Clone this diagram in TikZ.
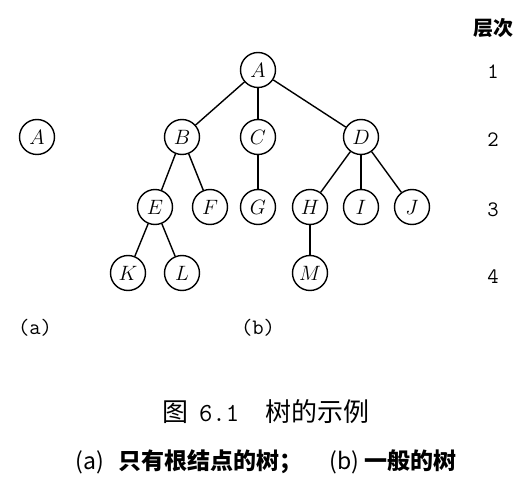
\documentclass[tikz,border=0pt]{standalone}
\usepackage{fontspec}
\newfontfamily\cjk{Noto Sans CJK SC}
\usetikzlibrary{positioning}
\tikzset{
  vert/.style={draw, circle, line width=1.4pt, minimum size=35pt, inner sep=0pt,
    font=\fontsize{20}{20}\selectfont},
  edge/.style={line width=1.4pt},
  lvl/.style={font=\ttfamily\fontsize{22}{22}\selectfont},
}
\begin{document}
\begin{tikzpicture}[x=1pt,y=-1pt]
\useasboundingbox (0,0) rectangle (531,481);
% Tree (a)
\node[vert] (a0) at (37,137) {$A$};
% Tree (b)
\node[vert] (A) at (258,70) {$A$};
\node[vert] (B) at (182,137) {$B$};
\node[vert] (C) at (258,137) {$C$};
\node[vert] (D) at (361,137) {$D$};
\node[vert] (E) at (155,207) {$E$};
\node[vert] (F) at (210,207) {$F$};
\node[vert] (G) at (258,207) {$G$};
\node[vert] (H) at (310,207) {$H$};
\node[vert] (I) at (361,207) {$I$};
\node[vert] (J) at (412,207) {$J$};
\node[vert] (K) at (128,273) {$K$};
\node[vert] (L) at (182,273) {$L$};
\node[vert] (M) at (310,273) {$M$};

\draw[edge] (A) -- (B);
\draw[edge] (A) -- (C);
\draw[edge] (A) -- (D);
\draw[edge] (B) -- (E);
\draw[edge] (B) -- (F);
\draw[edge] (C) -- (G);
\draw[edge] (D) -- (H);
\draw[edge] (D) -- (I);
\draw[edge] (D) -- (J);
\draw[edge] (E) -- (K);
\draw[edge] (E) -- (L);
\draw[edge] (H) -- (M);

% Levels
\node[font=\cjk\fontsize{20}{20}\selectfont\bfseries] (lvlhead) at (493,28) {层次};
\node[lvl] (l1) at (493,72) {1};
\node[lvl] (l2) at (493,140) {2};
\node[lvl] (l3) at (493,210) {3};
\node[lvl] (l4) at (493,277) {4};

% Sub labels
\node[lvl] (capa) at (35,328) {(a)};
\node[lvl] (capb) at (258,328) {(b)};

% Caption
\node[font=\cjk\fontsize{26}{26}\selectfont] (cap1) at (266,412)
  {图\hspace{0.4em}\texttt{6.1}\hspace{1em}树的示例};
\node[font=\cjk\fontsize{23}{23}\selectfont\bfseries] (cap2) at (266,462)
  {{\mdseries(a)}\hspace{0.6em}只有根结点的树；\hspace{1.2em}{\mdseries(b)}\hspace{0.2em}一般的树};
\end{tikzpicture}
\end{document}
